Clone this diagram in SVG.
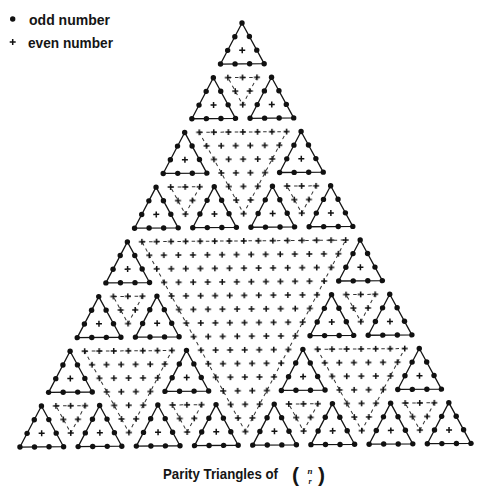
<svg xmlns="http://www.w3.org/2000/svg" width="479" height="486" viewBox="0 0 479 486">
<style>
.solid{fill:none;stroke:#151515;stroke-width:1.3;stroke-linejoin:round}
.dash{fill:none;stroke:#333;stroke-width:1;stroke-dasharray:3.5 3.6}
.dot{fill:#111}
.pl{fill:none;stroke:#111;stroke-width:1.5}
.lbl{font-family:"Liberation Sans",Arial,sans-serif;font-weight:bold;fill:#151515}
.it{font-family:"Liberation Serif","Times New Roman",serif;font-style:italic;font-weight:bold;fill:#151515}
</style>
<defs>
<path id="p" class="pl" d="M-3 0H3M0 -3V3"/>
<circle id="d" class="dot" r="2.7"/>
<pattern id="evens" patternUnits="userSpaceOnUse" x="-3.6375" y="-6.81" width="14.55" height="27.24">
<path class="pl" d="M0.6375 6.81h6M3.6375 3.81v6M7.9125 20.43h6M10.9125 17.43v6"/>
</pattern>
<g id="t4">
<polygon class="solid" points="0,0 -21.825,40.86 21.825,40.86"/>
<use href="#d"/>
<use href="#d" x="-7.275" y="13.62"/>
<use href="#d" x="7.275" y="13.62"/>
<use href="#d" x="-14.55" y="27.24"/>
<use href="#d" x="14.55" y="27.24"/>
<use href="#d" x="-21.825" y="40.86"/>
<use href="#d" x="-7.275" y="40.86"/>
<use href="#d" x="7.275" y="40.86"/>
<use href="#d" x="21.825" y="40.86"/>
<use href="#p" y="27.24"/>
</g>
<g id="b8">
<use href="#t4"/>
<use href="#t4" x="-29.1" y="54.48"/>
<use href="#t4" x="29.1" y="54.48"/>
<polygon class="dash" points="-14.55,54.48 14.55,54.48 0,81.72"/>
<polygon fill="url(#evens)" points="-25.4625,47.67 25.4625,47.67 0,95.34"/>
</g>
<g id="b16">
<use href="#b8"/>
<use href="#b8" x="-58.2" y="108.96"/>
<use href="#b8" x="58.2" y="108.96"/>
<polygon class="dash" points="-43.65,108.96 43.65,108.96 0,190.68"/>
<polygon fill="url(#evens)" points="-54.5625,102.15 54.5625,102.15 0,204.3"/>
</g>
</defs>
<rect width="479" height="486" fill="#fff"/>
<g id="legend">
<use href="#d" x="12.7" y="19"/>
<text class="lbl" x="29" y="25" font-size="15" textLength="81" lengthAdjust="spacingAndGlyphs">odd number</text>
<use href="#p" x="12.7" y="42"/>
<text class="lbl" x="28" y="48" font-size="15" textLength="85" lengthAdjust="spacingAndGlyphs">even number</text>
</g>
<g id="parity-triangle" transform="rotate(-0.47 242 23) translate(242 23)">
<g id="top-block"><use href="#b16"/></g>
<g id="left-block"><use href="#b16" x="-116.4" y="217.92"/></g>
<g id="right-block"><use href="#b16" x="116.4" y="217.92"/></g>
<g id="central-evens">
<polygon class="dash" points="-101.85,217.92 101.85,217.92 0,408.6"/>
<polygon fill="url(#evens)" points="-112.7625,211.11 112.7625,211.11 0,422.22"/>
</g>
</g>
<g id="caption">
<text class="lbl" x="163" y="479" font-size="14" textLength="115" lengthAdjust="spacingAndGlyphs">Parity Triangles of</text>
<text class="lbl" x="292" y="481.5" font-size="21">(</text>
<text class="lbl" x="318" y="481.5" font-size="21">)</text>
<text class="it" x="307.5" y="474" font-size="9">n</text>
<text class="it" x="308.5" y="483.5" font-size="8">r</text>
</g>
</svg>
